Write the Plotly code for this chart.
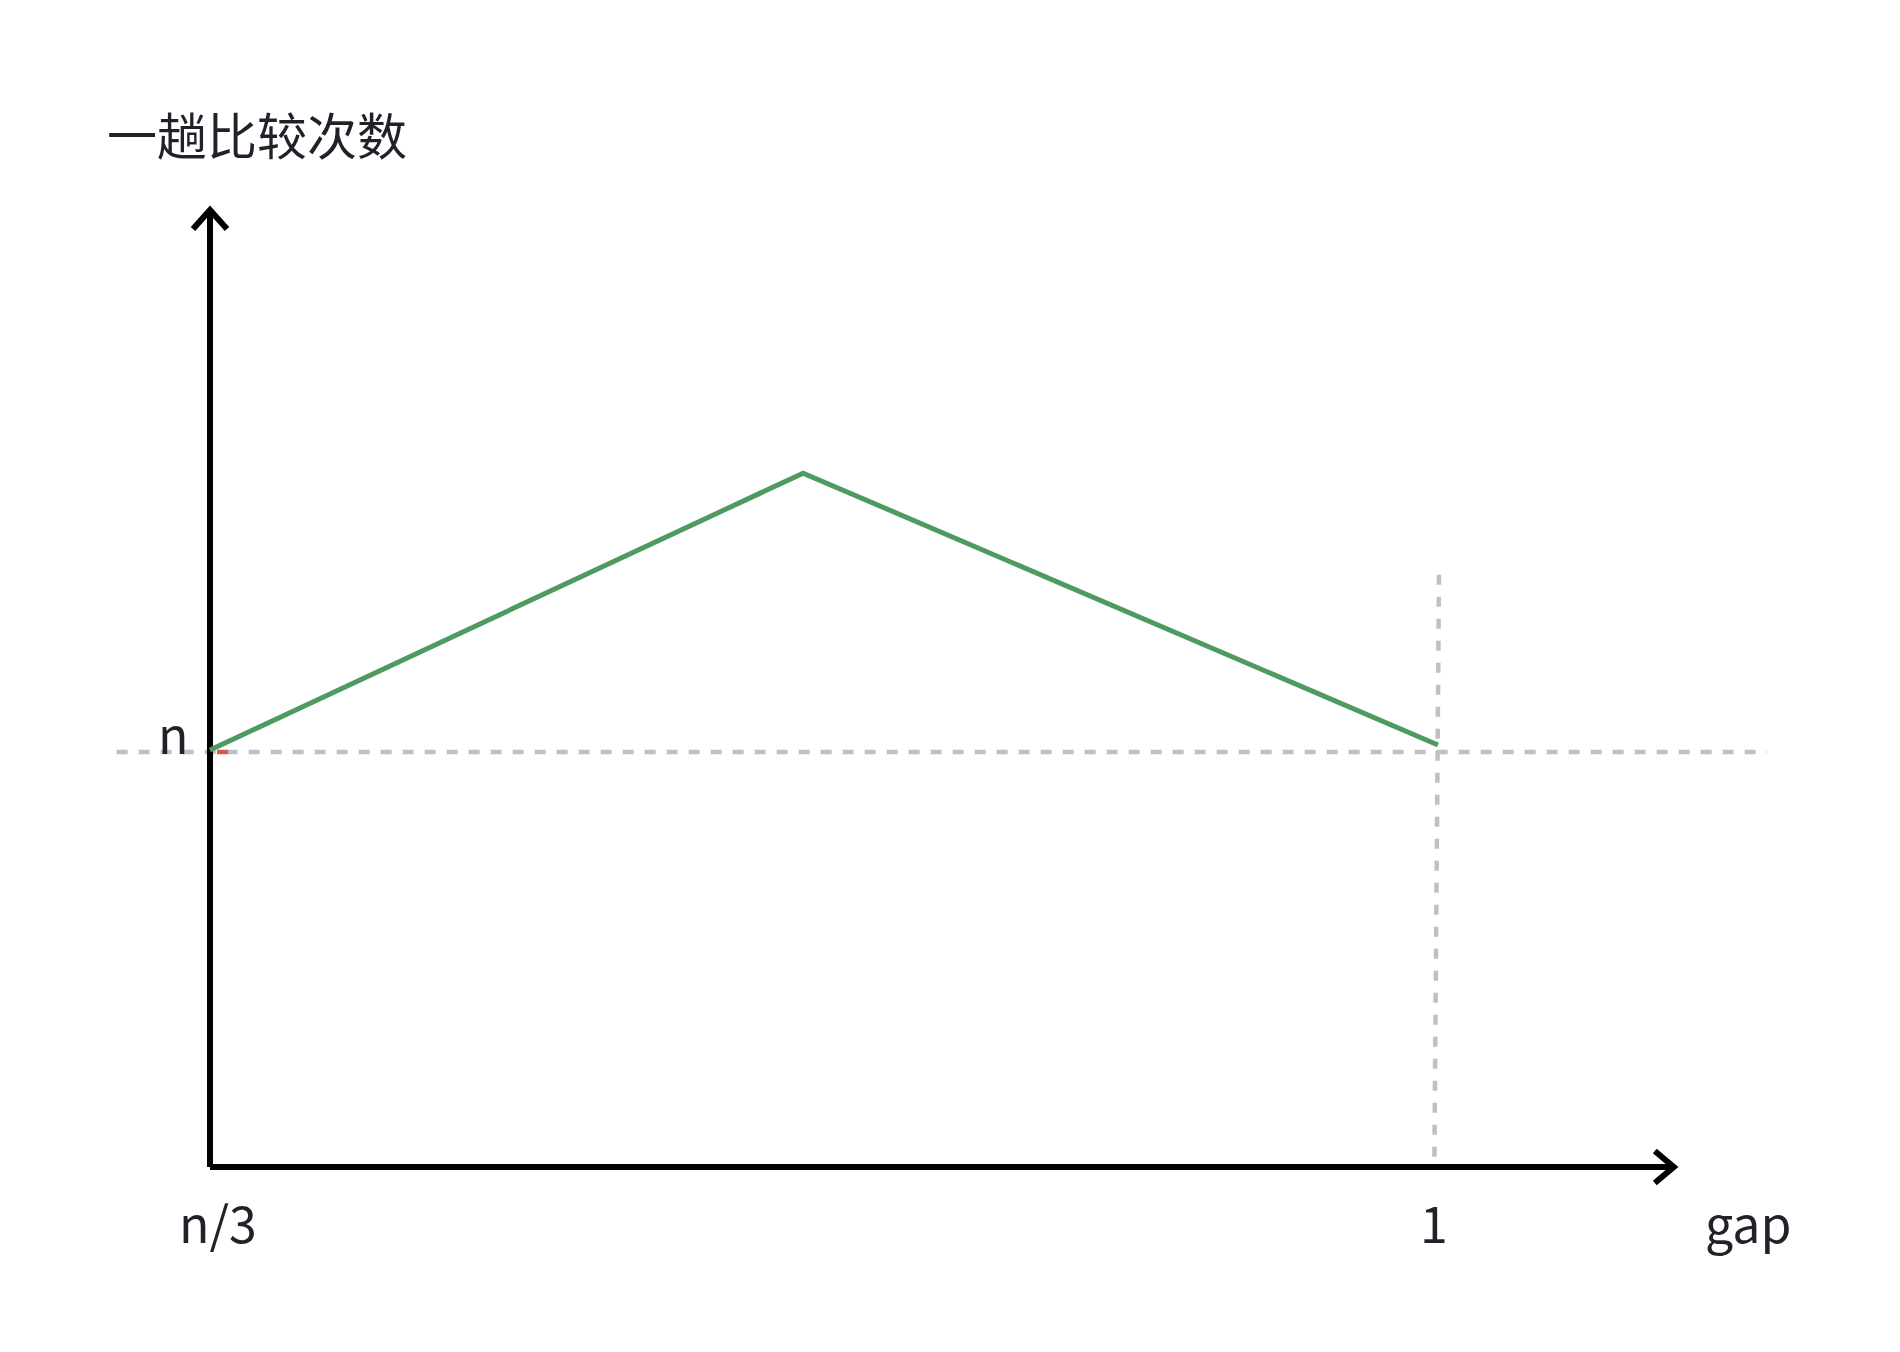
import plotly.graph_objects as go

# 折线: gap 从 n/3 (x=0) 到 1 (x=1), 比较次数以 n 为单位 (y=1 即 n)
gap = [0.0, 0.483, 1.0]
compares = [1.005, 1.672, 1.017]

# 辅助虚线 (y = n 与 x = 1)
n_line_x = [-0.076, 1.268]
n_line_y = [1.0, 1.0]
one_line_x = [1.0008, 0.997]
one_line_y = [1.427, 0.0]

# 起点的小红标记
red_x = [0.0057, 0.0147]
red_y = [1.0, 1.0]

# 坐标轴长度
axis_x_end = 1.192
axis_y_end = 2.306

x_tick_labels = ['n/3', '1']
x_tick_vals = [0.0, 0.993]
y_tick_labels = ['n']
y_tick_vals = [1.0]

W, H = 1900, 1352
# 页面有 8px 的 body 边距, 这里直接扣掉
PAD = 8
px_x = 1228.0
px_y = 415.0
ox, oy = 210.0 - PAD, 1167.0 - PAD


def dx(px):
    return (px - PAD - ox) / px_x


def dy(py):
    return (oy - (py - PAD)) / px_y


FONT = 'Noto Sans CJK SC'
TXT = '#1f2329'
AXIS = '#000000'
GRAY = '#bec0c5'
GREEN = '#4e9a60'

fig = go.Figure()

fig.add_trace(go.Scatter(x=n_line_x, y=n_line_y, mode='lines',
                         line=dict(color=GRAY, width=4.5, dash='11px,11px')))
fig.add_trace(go.Scatter(x=one_line_x, y=one_line_y, mode='lines',
                         line=dict(color=GRAY, width=4.5, dash='10px,12px')))

# 坐标轴 + 箭头
fig.add_trace(go.Scatter(x=[0, axis_x_end], y=[0, 0], mode='lines',
                         line=dict(color=AXIS, width=6)))
fig.add_trace(go.Scatter(x=[0, 0], y=[0, axis_y_end], mode='lines',
                         line=dict(color=AXIS, width=6)))
ax_head_x = [axis_x_end - 19 / px_x, axis_x_end, axis_x_end - 19 / px_x]
ax_head_y = [16 / px_y, 0, -16 / px_y]
fig.add_trace(go.Scatter(x=ax_head_x, y=ax_head_y, mode='lines',
                         line=dict(color=AXIS, width=6)))
ay_head_x = [-17 / px_x, 0, 17 / px_x]
ay_head_y = [axis_y_end - 19 / px_y, axis_y_end, axis_y_end - 19 / px_y]
fig.add_trace(go.Scatter(x=ay_head_x, y=ay_head_y, mode='lines',
                         line=dict(color=AXIS, width=6)))

fig.add_trace(go.Scatter(x=gap, y=compares, mode='lines',
                         line=dict(color=GREEN, width=5)))
fig.add_trace(go.Scatter(x=red_x, y=red_y, mode='lines',
                         line=dict(color='#d9584f', width=4.5)))

ann = []
ann.append(dict(x=dx(105), y=dy(133), text='一趟比较次数', xanchor='left', yanchor='middle'))
for v, t in zip(x_tick_vals, x_tick_labels):
    ann.append(dict(x=v + 8 / px_x if t == 'n/3' else v + 5 / px_x, y=dy(1221), text=t,
                    xanchor='center', yanchor='middle'))
for v, t in zip(y_tick_vals, y_tick_labels):
    ann.append(dict(x=dx(191), y=v + 20 / px_y, text=t, xanchor='right', yanchor='middle'))
ann.append(dict(x=dx(1748), y=dy(1221), text='gap', xanchor='center', yanchor='middle'))
for a in ann:
    a.update(xref='x', yref='y', showarrow=False,
             font=dict(family=FONT, size=50, color=TXT))

fig.update_layout(
    width=W, height=H,
    margin=dict(l=0, r=0, t=0, b=0),
    paper_bgcolor='white', plot_bgcolor='white',
    showlegend=False,
    annotations=ann,
    xaxis=dict(range=[dx(PAD), dx(W + PAD)], visible=False, fixedrange=True),
    yaxis=dict(range=[dy(H + PAD), dy(PAD)], visible=False, fixedrange=True),
    hovermode=False,
)

fig.write_html("out.html")
